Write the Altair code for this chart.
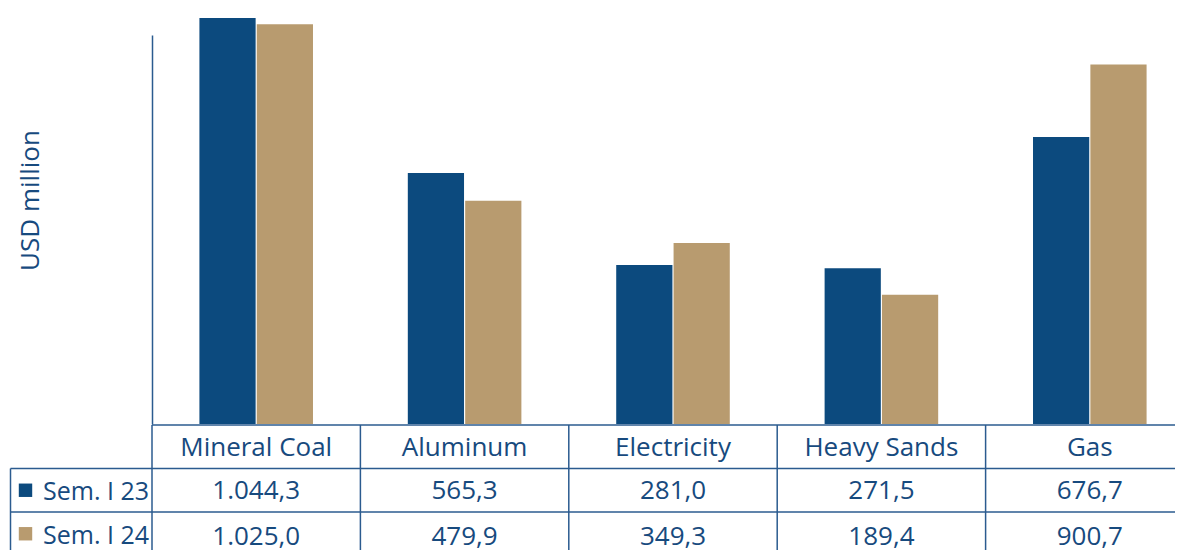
import altair as alt
import pandas as pd

categories = ["Mineral Coal", "Aluminum", "Electricity", "Heavy Sands", "Gas"]
series = ["Sem. I 23", "Sem. I 24"]
sem23 = [1044.3, 565.3, 281.0, 271.5, 676.7]
sem24 = [1025.0, 479.9, 349.3, 189.4, 900.7]
labels23 = ["1.044,3", "565,3", "281,0", "271,5", "676,7"]
labels24 = ["1.025,0", "479,9", "349,3", "189,4", "900,7"]

BLUE = "#0c4a7e"
TAN = "#b89b6f"
TXT = "#174a7e"
LINE = "#2b5b8f"
FONT = "Open Sans"
W = 1023          # visible plot width (page must not be wider than the window)
FULL = 1042       # width the five columns would take
TH = 130.5        # table height

rows = []
for c, a, b in zip(categories, sem23, sem24):
    rows.append({"cat": c, "series": series[0], "value": a})
    rows.append({"cat": c, "series": series[1], "value": b})
bars_df = pd.DataFrame(rows)

color = alt.Color("series:N", scale=alt.Scale(domain=series, range=[BLUE, TAN]), legend=None)

bars = alt.Chart(bars_df).mark_bar().encode(
    x=alt.X("cat:N", sort=categories, axis=None,
            scale=alt.Scale(range=[0, FULL], paddingInner=0.455, paddingOuter=0.2275)),
    xOffset=alt.XOffset("series:N", sort=series, scale=alt.Scale(paddingInner=0.02)),
    y=alt.Y("value:Q", scale=alt.Scale(domain=[-210, 992], nice=False, zero=False),
            axis=alt.Axis(title="USD million", ticks=False, labels=False, grid=False,
                          domainColor=LINE, domainWidth=1.5,
                          titleFont=FONT, titleFontSize=26, titleFontWeight="normal",
                          titleColor=TXT, titleAngle=-90, titleX=-122, titleY=165,
                          titleAlign="center", titleBaseline="middle")),
    y2=alt.datum(-210),
    color=color,
).properties(width=W, height=389)

# table
row_keys = ["hdr", series[0], series[1]]
cells = []
for c, l1, l2 in zip(categories, labels23, labels24):
    cells.append({"cat": c, "row": "hdr", "txt": c})
    cells.append({"cat": c, "row": series[0], "txt": l1})
    cells.append({"cat": c, "row": series[1], "txt": l2})
cells_df = pd.DataFrame(cells)
lab_df = pd.DataFrame({"row": series, "series": series})
hdr_df = pd.DataFrame({"row": ["hdr"]})
cat_df = pd.DataFrame({"cat": categories})

xscale = alt.Scale(domain=categories, range=[0, FULL], paddingInner=0, paddingOuter=0)
yscale = alt.Scale(domain=row_keys, paddingInner=0, paddingOuter=0)
xs = alt.X("cat:N", sort=categories, axis=None, scale=xscale)
ys = alt.Y("row:N", sort=row_keys, axis=None, scale=yscale)
ys0 = alt.Y("row:N", sort=row_keys, axis=None, scale=yscale, bandPosition=0)
xs0 = alt.X("cat:N", sort=categories, axis=None, scale=xscale, bandPosition=0)

rule = dict(color=LINE, strokeWidth=1.5)
h_top = alt.Chart(hdr_df).mark_rule(**rule).encode(y=ys0, x=alt.value(0), x2=alt.value(W))
h_rows = alt.Chart(lab_df).mark_rule(**rule).encode(y=ys0, x=alt.value(-141.5), x2=alt.value(W))
v_cols = alt.Chart(cat_df).mark_rule(**rule).encode(x=xs0, y=alt.value(0), y2=alt.value(TH))
v_left = alt.Chart(lab_df.head(1)).mark_rule(**rule).encode(
    x=alt.value(-141.5), y=ys0, y2=alt.value(TH))

txt = alt.Chart(cells_df).transform_filter(alt.datum.row != series[1]).mark_text(
    font=FONT, fontSize=26, color=TXT, baseline="middle", dy=1).encode(x=xs, y=ys, text="txt:N")
txt2 = alt.Chart(cells_df).transform_filter(alt.datum.row == series[1]).mark_text(
    font=FONT, fontSize=26, color=TXT, baseline="middle", dy=3).encode(x=xs, y=ys, text="txt:N")
labtxt = alt.Chart(lab_df).mark_text(font=FONT, fontSize=25, color=TXT, align="left",
                                     baseline="middle", dy=2).encode(
    x=alt.value(-109), y=ys, text="series:N")
marks = alt.Chart(lab_df).mark_square(size=180, opacity=1).encode(
    x=alt.value(-126.5), y=ys, color=color)

table = alt.layer(h_top, h_rows, v_cols, v_left, txt, txt2, labtxt, marks).properties(width=W, height=TH)

chart = alt.vconcat(bars, table, spacing=0).properties(
    padding={"left": 1, "top": 10, "right": 0, "bottom": 0}
).configure_view(stroke=None)

chart.save("out.html", embed_options={"renderer": "svg", "actions": False})
